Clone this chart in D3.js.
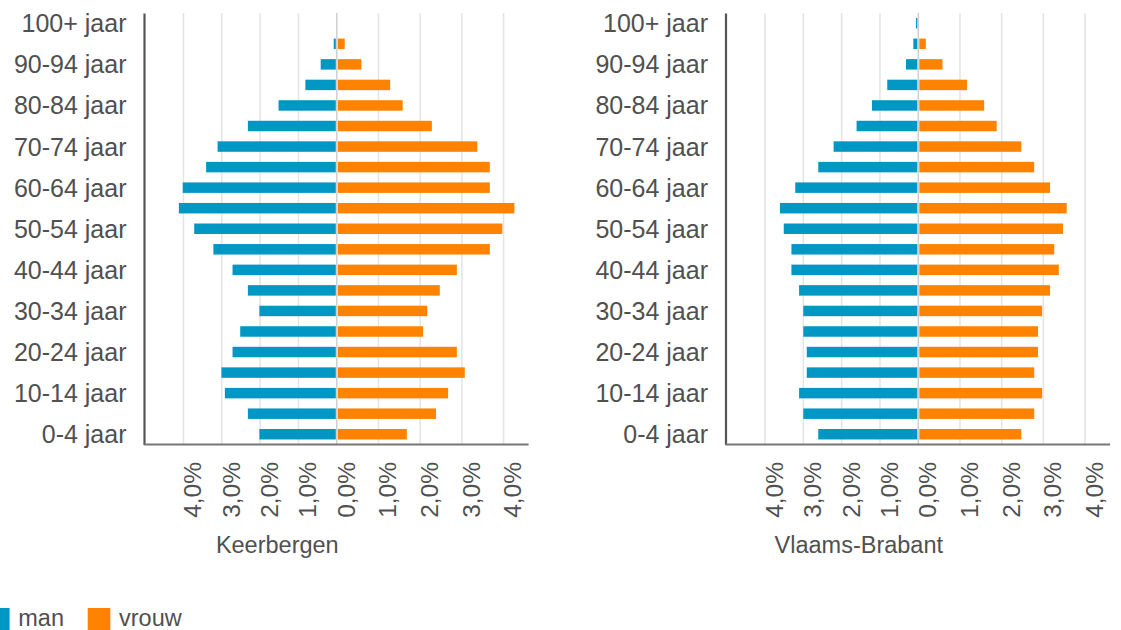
<!DOCTYPE html>
<html>
<head>
<meta charset="utf-8">
<script src="https://cdn.jsdelivr.net/npm/d3@7"></script>
<style>
  html, body { margin: 0; padding: 0; background: #fff; }
  svg { display: block; font-family: "Liberation Sans", Arial, sans-serif; }
</style>
</head>
<body>
<svg id="chart" width="1121" height="630"></svg>
<script>
// ---------- data ----------
const ageGroups = ["0-4 jaar","5-9 jaar","10-14 jaar","15-19 jaar","20-24 jaar","25-29 jaar","30-34 jaar",
  "35-39 jaar","40-44 jaar","45-49 jaar","50-54 jaar","55-59 jaar","60-64 jaar","65-69 jaar","70-74 jaar",
  "75-79 jaar","80-84 jaar","85-89 jaar","90-94 jaar","95-99 jaar","100+ jaar"];
const labeledGroups = ["0-4 jaar","10-14 jaar","20-24 jaar","30-34 jaar","40-44 jaar","50-54 jaar",
  "60-64 jaar","70-74 jaar","80-84 jaar","90-94 jaar","100+ jaar"];

const keerbergenMan   = [2.02,2.32,2.92,3.01,2.72,2.52,2.02,2.32,2.72,3.22,3.72,4.12,4.02,3.41,3.11,2.32,1.52,0.82,0.42,0.08,0];
const keerbergenVrouw = [1.68,2.38,2.67,3.07,2.88,2.07,2.17,2.47,2.88,3.67,3.97,4.26,3.67,3.67,3.37,2.28,1.58,1.28,0.59,0.19,0];
const brabantMan      = [2.61,3.00,3.11,2.91,2.91,3.00,3.00,3.11,3.31,3.31,3.51,3.61,3.21,2.61,2.21,1.61,1.21,0.81,0.32,0.13,0.06];
const brabantVrouw    = [2.47,2.78,2.97,2.78,2.87,2.87,2.97,3.16,3.37,3.26,3.47,3.56,3.16,2.78,2.47,1.88,1.58,1.17,0.58,0.18,0.02];

const panelTitles = ["Keerbergen","Vlaams-Brabant"];
const legendLabels = ["man","vrouw"];
const manTicks = [1,2,3,4];
const vrouwTicks = [0,1,2,3,4];
const manDomain = [0, 5.03];
const vrouwDomain = [0, 4.6];

// ---------- layout / style ----------
const colors = { man: "#0097c4", vrouw: "#ff8300" };
const textColor = "#505050";
const panelOffsets = [0, 581.5];
const axisX = 144, zeroX = 336.8, rightX = 528.6, plotTop = 13, plotBottom = 444.5;

const svg = d3.select("#chart");
const fmt = d => d3.format(".1f")(d).replace(".", ",") + "%";

const panels = [
  { title: panelTitles[0], man: keerbergenMan, vrouw: keerbergenVrouw },
  { title: panelTitles[1], man: brabantMan, vrouw: brabantVrouw }
];

const y = d3.scaleBand().domain(ageGroups.slice().reverse()).range([plotTop, plotBottom]).paddingInner(0.49).paddingOuter(0.245);
const yLab = d3.scaleBand().domain(ageGroups.slice().reverse()).range([plotTop, plotBottom]);
const xMan = d3.scaleLinear().domain(manDomain).range([zeroX, axisX]);
const xVrouw = d3.scaleLinear().domain(vrouwDomain).range([zeroX, rightX]);

panels.forEach((p, i) => {
  const g = svg.append("g").attr("transform", `translate(${panelOffsets[i]},0)`);

  // gridlines
  const grid = g.append("g");
  manTicks.forEach(t => grid.append("line").attr("x1", xMan(t)).attr("x2", xMan(t))
    .attr("y1", plotTop).attr("y2", plotBottom).attr("stroke", "#e4e4e4").attr("stroke-width", 1.5));
  vrouwTicks.forEach(t => grid.append("line").attr("x1", xVrouw(t)).attr("x2", xVrouw(t))
    .attr("y1", plotTop).attr("y2", plotBottom).attr("stroke", t === 0 ? "#cfcfcf" : "#e4e4e4").attr("stroke-width", 1.5));

  // bars
  const bh = y.bandwidth();
  g.append("g").selectAll("rect").data(ageGroups).join("rect")
    .attr("x", (d, k) => xMan(p.man[k]))
    .attr("y", d => y(d))
    .attr("width", (d, k) => Math.max(0, zeroX - xMan(p.man[k]) - 1))
    .attr("height", bh)
    .attr("fill", colors.man);
  g.append("g").selectAll("rect").data(ageGroups).join("rect")
    .attr("x", zeroX + 1)
    .attr("y", d => y(d))
    .attr("width", (d, k) => Math.max(0, xVrouw(p.vrouw[k]) - zeroX - 1))
    .attr("height", bh)
    .attr("fill", colors.vrouw);

  // y axis
  const ya = g.append("g").attr("transform", `translate(${axisX},0)`)
    .call(d3.axisLeft(yLab).tickValues(labeledGroups).tickSize(0).tickPadding(17.5));
  ya.select(".domain").attr("stroke", "#555").attr("stroke-width", 2.2);
  ya.selectAll("text").attr("font-size", 25).attr("fill", textColor)
    .attr("font-family", '"Liberation Sans", Arial, sans-serif').attr("dy", "0.36em");

  // x axes
  const styleX = sel => {
    sel.select(".domain").remove();
    sel.selectAll("text")
      .attr("transform", "rotate(-90)")
      .attr("x", -17.5).attr("y", 0).attr("dy", "0.71em")
      .attr("text-anchor", "end")
      .attr("font-size", 24.5).attr("fill", textColor)
      .attr("font-family", '"Liberation Sans", Arial, sans-serif');
  };
  g.append("g").attr("transform", `translate(0,${plotBottom})`)
    .call(d3.axisBottom(xMan).tickValues(manTicks).tickFormat(fmt).tickSize(0)).call(styleX);
  g.append("g").attr("transform", `translate(0,${plotBottom})`)
    .call(d3.axisBottom(xVrouw).tickValues(vrouwTicks).tickFormat(fmt).tickSize(0)).call(styleX);
  g.append("line").attr("x1", axisX).attr("x2", rightX).attr("y1", plotBottom).attr("y2", plotBottom)
    .attr("stroke", "#777").attr("stroke-width", 2);

  // title
  g.append("text").attr("x", axisX + 133.3).attr("y", 553).attr("text-anchor", "middle")
    .attr("font-size", 23.5).attr("fill", textColor).text(p.title);
});

// legend
const legendX = [-13, 87.7];
const legend = svg.append("g");
legendLabels.forEach((lab, i) => {
  legend.append("rect").attr("x", legendX[i]).attr("y", 608).attr("width", 22.6).attr("height", 22)
    .attr("fill", i === 0 ? colors.man : colors.vrouw);
  legend.append("text").attr("x", legendX[i] + 31.3).attr("y", 626).attr("font-size", 23.5)
    .attr("fill", textColor).text(lab);
});
</script>
</body>
</html>
